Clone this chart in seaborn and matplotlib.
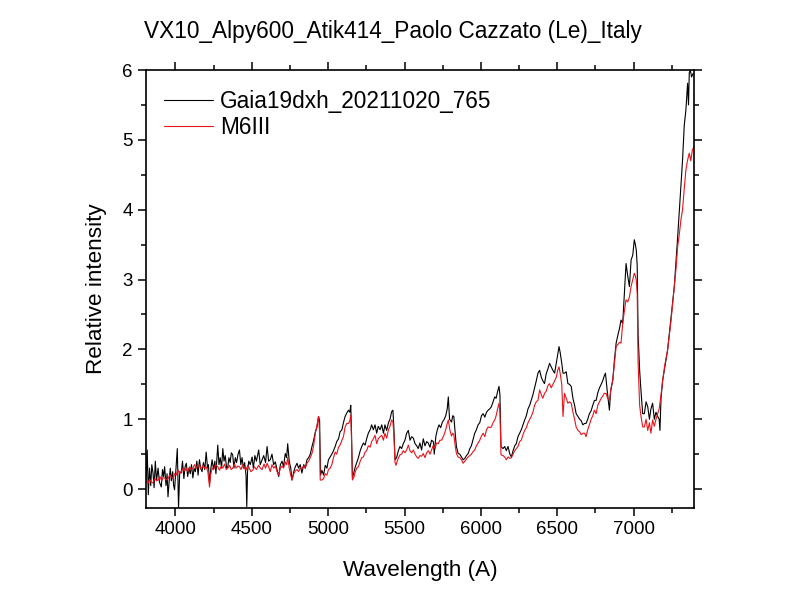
import numpy as np
import pandas as pd
import matplotlib
matplotlib.use('Agg')
import matplotlib.pyplot as plt
import seaborn as sns
from matplotlib.ticker import MultipleLocator

# Gaia19dxh spectrum (wavelength, relative intensity)
gaia_wl = [3808, 3815, 3822, 3830, 3838, 3845, 3853, 3860, 3868, 3876, 3886, 3895, 3907, 3915, 3922, 3929,
           3938, 3945, 3951, 3960, 3966, 3973, 3982, 3988, 3994, 4003, 4012, 4020, 4028, 4038, 4046, 4055,
           4063, 4071, 4080, 4088, 4097, 4105, 4114, 4122, 4130, 4140, 4148, 4157, 4165, 4174, 4183, 4192,
           4201, 4210, 4216, 4223, 4232, 4240, 4249, 4258, 4265, 4277, 4285, 4293, 4302, 4310, 4318, 4326,
           4335, 4343, 4350, 4358, 4366, 4375, 4383, 4392, 4400, 4410, 4419, 4428, 4436, 4445, 4453, 4462,
           4467, 4472, 4480, 4490, 4502, 4510, 4520, 4530, 4545, 4555, 4567, 4578, 4590, 4600, 4610, 4621,
           4632, 4643, 4654, 4665, 4676, 4687, 4698, 4708, 4719, 4728, 4735, 4745, 4755, 4763, 4775, 4785,
           4796, 4806, 4817, 4828, 4840, 4850, 4861, 4872, 4883, 4894, 4905, 4916, 4926, 4937, 4944, 4950,
           4959, 4970, 4981, 4992, 5002, 5013, 5024, 5035, 5046, 5056, 5068, 5078, 5090, 5100, 5111, 5122,
           5133, 5142, 5148, 5153, 5159, 5170, 5178, 5187, 5198, 5210, 5220, 5231, 5242, 5252, 5263, 5275,
           5285, 5296, 5307, 5318, 5328, 5340, 5351, 5362, 5372, 5383, 5395, 5405, 5416, 5424, 5430, 5438,
           5448, 5460, 5470, 5481, 5492, 5503, 5514, 5525, 5536, 5547, 5558, 5569, 5580, 5590, 5601, 5612,
           5623, 5634, 5645, 5656, 5667, 5677, 5689, 5695, 5705, 5715, 5726, 5737, 5748, 5758, 5770, 5780,
           5787, 5795, 5808, 5816, 5823, 5832, 5840, 5851, 5862, 5873, 5884, 5895, 5906, 5917, 5928, 5938,
           5950, 5960, 5971, 5982, 5993, 6004, 6015, 6026, 6037, 6048, 6059, 6069, 6080, 6091, 6100, 6110,
           6119, 6125, 6132, 6145, 6156, 6167, 6178, 6190, 6200, 6211, 6222, 6232, 6243, 6254, 6265, 6276,
           6287, 6298, 6309, 6320, 6330, 6341, 6352, 6363, 6374, 6385, 6396, 6406, 6417, 6428, 6439, 6450,
           6461, 6472, 6483, 6494, 6503, 6512, 6520, 6530, 6538, 6548, 6559, 6570, 6581, 6592, 6603, 6614,
           6624, 6636, 6647, 6657, 6668, 6679, 6689, 6700, 6711, 6722, 6733, 6744, 6755, 6766, 6777, 6788,
           6798, 6808, 6816, 6828, 6842, 6850, 6864, 6875, 6886, 6897, 6908, 6918, 6929, 6940, 6951, 6962,
           6973, 6984, 6995, 7005, 7012, 7018, 7024, 7030, 7040, 7049, 7060, 7071, 7082, 7093, 7104, 7114,
           7125, 7136, 7147, 7158, 7168, 7173, 7180, 7191, 7205, 7223, 7245, 7267, 7278, 7289, 7300, 7310,
           7321, 7332, 7343, 7354, 7360, 7365, 7372, 7380, 7390]
gaia_flux = [0.13, 0.56, -0.08, 0.30, 0.05, 0.35, 0.23, 0.02, 0.40, 0.12, 0.30, 0.10, 0.03, 0.28, 0.18, 0.32,
             0.05, 0.22, -0.11, 0.15, 0.30, 0.12, 0.25, 0.05, -0.01, 0.28, 0.58, -0.27, 0.25, 0.23, 0.40, 0.15,
             0.32, 0.37, 0.18, 0.30, 0.22, 0.35, 0.16, 0.30, 0.25, 0.40, 0.20, 0.42, 0.30, 0.25, 0.38, 0.28,
             0.53, 0.30, 0.35, 0.08, 0.30, 0.42, 0.28, 0.40, 0.22, 0.63, 0.35, 0.45, 0.30, 0.58, 0.40, 0.48,
             0.30, 0.32, 0.45, 0.38, 0.52, 0.49, 0.30, 0.45, 0.38, 0.50, 0.56, 0.35, 0.45, 0.30, 0.38, 0.20,
             -0.25, 0.25, 0.40, 0.35, 0.46, 0.30, 0.48, 0.40, 0.56, 0.35, 0.42, 0.48, 0.38, 0.61, 0.40, 0.42,
             0.50, 0.35, 0.39, 0.28, 0.18, 0.35, 0.40, 0.32, 0.51, 0.45, 0.65, 0.40, 0.30, 0.13, 0.25, 0.32,
             0.37, 0.30, 0.35, 0.23, 0.35, 0.30, 0.42, 0.45, 0.50, 0.61, 0.70, 0.82, 0.88, 1.04, 0.98, 0.20,
             0.27, 0.20, 0.34, 0.30, 0.42, 0.46, 0.50, 0.55, 0.61, 0.68, 0.72, 0.82, 0.85, 0.95, 1.04, 1.09,
             1.13, 1.10, 1.20, 0.80, 0.16, 0.25, 0.32, 0.38, 0.45, 0.55, 0.61, 0.66, 0.63, 0.72, 0.80, 0.85,
             0.92, 0.85, 0.92, 0.80, 0.90, 0.85, 0.92, 0.80, 0.92, 0.84, 0.95, 1.00, 1.11, 1.13, 0.90, 0.42,
             0.45, 0.55, 0.61, 0.58, 0.65, 0.70, 0.80, 0.84, 0.70, 0.75, 0.73, 0.65, 0.62, 0.58, 0.66, 0.56,
             0.72, 0.62, 0.68, 0.66, 0.60, 0.70, 0.68, 0.50, 0.75, 0.85, 0.92, 0.88, 0.96, 0.99, 1.05, 1.15,
             1.32, 1.00, 0.96, 1.05, 1.04, 0.80, 0.61, 0.51, 0.50, 0.46, 0.42, 0.44, 0.48, 0.51, 0.58, 0.62,
             0.72, 0.80, 0.85, 0.92, 0.95, 1.05, 1.08, 1.03, 1.10, 1.13, 1.15, 1.18, 1.25, 1.32, 1.30, 1.40,
             1.47, 1.35, 0.61, 0.58, 0.61, 0.55, 0.61, 0.50, 0.46, 0.55, 0.62, 0.65, 0.75, 0.80, 0.85, 0.92,
             0.99, 1.05, 1.15, 1.20, 1.27, 1.35, 1.45, 1.55, 1.66, 1.70, 1.60, 1.55, 1.51, 1.65, 1.72, 1.80,
             1.75, 1.70, 1.66, 1.80, 1.92, 2.04, 1.95, 1.80, 1.66, 1.66, 1.68, 1.51, 1.50, 1.47, 1.30, 1.20,
             1.08, 1.04, 1.00, 0.98, 0.92, 0.94, 0.94, 1.00, 1.08, 1.12, 1.20, 1.27, 1.27, 1.38, 1.45, 1.50,
             1.55, 1.62, 1.66, 1.40, 1.13, 1.40, 1.56, 1.85, 2.09, 2.20, 2.30, 2.42, 2.37, 2.80, 3.23, 3.05,
             2.90, 3.28, 3.35, 3.57, 3.50, 3.42, 3.20, 2.20, 1.70, 1.40, 1.08, 1.08, 1.25, 1.18, 1.00, 1.15,
             1.23, 1.00, 1.10, 1.04, 1.00, 0.84, 1.30, 1.56, 1.75, 1.99, 2.45, 2.90, 3.25, 3.61, 4.00, 4.33,
             4.71, 5.20, 5.43, 5.81, 5.50, 5.96, 6.00, 5.90, 5.95]

# M6III template spectrum
m6_wl = [3808, 3820, 3830, 3842, 3853, 3865, 3876, 3886, 3898, 3910, 3920, 3929, 3940, 3951, 3962, 3973,
         3985, 3994, 4005, 4016, 4027, 4038, 4050, 4060, 4071, 4082, 4093, 4104, 4114, 4125, 4136, 4146,
         4157, 4168, 4180, 4190, 4201, 4212, 4223, 4230, 4240, 4250, 4262, 4277, 4288, 4300, 4310, 4322,
         4332, 4343, 4355, 4365, 4375, 4386, 4397, 4408, 4419, 4430, 4440, 4451, 4462, 4473, 4484, 4494,
         4506, 4517, 4530, 4545, 4556, 4567, 4580, 4590, 4600, 4610, 4621, 4632, 4643, 4654, 4665, 4676,
         4687, 4698, 4708, 4719, 4728, 4735, 4745, 4755, 4763, 4775, 4785, 4796, 4806, 4817, 4828, 4840,
         4850, 4861, 4872, 4883, 4894, 4905, 4916, 4926, 4937, 4943, 4948, 4959, 4970, 4981, 4992, 5002,
         5013, 5024, 5035, 5046, 5056, 5068, 5078, 5090, 5100, 5111, 5122, 5133, 5142, 5148, 5153, 5159,
         5170, 5178, 5187, 5198, 5210, 5220, 5231, 5242, 5252, 5263, 5275, 5285, 5296, 5307, 5318, 5328,
         5340, 5351, 5362, 5372, 5383, 5395, 5405, 5416, 5424, 5430, 5438, 5444, 5455, 5470, 5481, 5492,
         5503, 5514, 5525, 5536, 5547, 5558, 5569, 5580, 5590, 5601, 5612, 5623, 5634, 5645, 5656, 5667,
         5677, 5689, 5700, 5710, 5721, 5732, 5743, 5758, 5770, 5780, 5787, 5797, 5808, 5816, 5823, 5832,
         5840, 5851, 5862, 5873, 5884, 5895, 5906, 5917, 5928, 5938, 5950, 5960, 5971, 5982, 5993, 6004,
         6015, 6026, 6037, 6048, 6059, 6069, 6080, 6091, 6100, 6110, 6119, 6125, 6132, 6145, 6156, 6167,
         6178, 6190, 6200, 6211, 6222, 6232, 6243, 6254, 6265, 6276, 6287, 6298, 6309, 6320, 6330, 6341,
         6352, 6363, 6374, 6385, 6396, 6406, 6417, 6428, 6439, 6450, 6461, 6472, 6483, 6494, 6503, 6512,
         6520, 6530, 6538, 6548, 6559, 6570, 6581, 6592, 6603, 6614, 6624, 6636, 6647, 6657, 6668, 6679,
         6689, 6700, 6711, 6722, 6733, 6744, 6755, 6766, 6777, 6788, 6798, 6808, 6820, 6830, 6842, 6853,
         6864, 6875, 6886, 6897, 6908, 6918, 6929, 6940, 6951, 6962, 6973, 6984, 6995, 7005, 7012, 7018,
         7024, 7030, 7040, 7049, 7060, 7071, 7082, 7093, 7104, 7114, 7125, 7136, 7147, 7158, 7168, 7180,
         7191, 7205, 7223, 7245, 7267, 7278, 7289, 7300, 7310, 7321, 7332, 7343, 7354, 7365, 7375, 7385,
         7395]
m6_flux = [0.11, 0.08, 0.14, 0.10, 0.09, 0.15, 0.12, 0.13, 0.18, 0.12, 0.16, 0.16, 0.13, 0.15, 0.20, 0.18,
           0.15, 0.22, 0.20, 0.28, 0.22, 0.25, 0.30, 0.26, 0.30, 0.25, 0.32, 0.28, 0.30, 0.35, 0.30, 0.33,
           0.35, 0.28, 0.34, 0.30, 0.32, 0.25, 0.03, 0.20, 0.30, 0.28, 0.35, 0.32, 0.27, 0.33, 0.30, 0.36,
           0.28, 0.30, 0.34, 0.28, 0.30, 0.36, 0.30, 0.33, 0.32, 0.28, 0.35, 0.30, 0.27, 0.34, 0.30, 0.25,
           0.27, 0.32, 0.28, 0.34, 0.30, 0.28, 0.36, 0.30, 0.37, 0.32, 0.25, 0.35, 0.30, 0.33, 0.25, 0.20,
           0.30, 0.33, 0.30, 0.39, 0.35, 0.45, 0.30, 0.20, 0.13, 0.22, 0.26, 0.28, 0.25, 0.30, 0.30, 0.33,
           0.30, 0.37, 0.40, 0.45, 0.51, 0.62, 0.80, 0.90, 1.04, 0.85, 0.13, 0.13, 0.15, 0.22, 0.20, 0.28,
           0.30, 0.35, 0.45, 0.53, 0.50, 0.60, 0.63, 0.70, 0.75, 0.89, 0.94, 0.94, 0.98, 1.06, 0.70, 0.13,
           0.18, 0.25, 0.30, 0.32, 0.40, 0.45, 0.46, 0.53, 0.55, 0.62, 0.60, 0.68, 0.72, 0.77, 0.65, 0.72,
           0.75, 0.77, 0.70, 0.80, 0.73, 0.85, 0.90, 0.99, 0.96, 0.80, 0.38, 0.34, 0.42, 0.49, 0.50, 0.55,
           0.52, 0.56, 0.63, 0.55, 0.52, 0.56, 0.50, 0.46, 0.44, 0.48, 0.47, 0.51, 0.45, 0.52, 0.55, 0.50,
           0.56, 0.63, 0.58, 0.66, 0.65, 0.70, 0.70, 0.77, 0.85, 0.94, 0.99, 0.85, 0.76, 0.80, 0.78, 0.62,
           0.51, 0.46, 0.45, 0.42, 0.37, 0.40, 0.43, 0.46, 0.48, 0.50, 0.54, 0.56, 0.62, 0.66, 0.70, 0.76,
           0.80, 0.75, 0.85, 0.89, 0.88, 0.89, 0.95, 0.99, 1.05, 1.15, 1.23, 1.10, 0.49, 0.48, 0.46, 0.42,
           0.46, 0.44, 0.45, 0.50, 0.55, 0.58, 0.61, 0.68, 0.70, 0.78, 0.84, 0.88, 0.95, 1.00, 1.04, 1.10,
           1.20, 1.25, 1.27, 1.42, 1.35, 1.30, 1.37, 1.40, 1.48, 1.51, 1.45, 1.50, 1.55, 1.60, 1.70, 1.75,
           1.65, 1.50, 1.04, 1.37, 1.30, 1.23, 1.25, 1.23, 1.10, 1.00, 0.89, 0.84, 0.82, 0.78, 0.80, 0.80,
           0.75, 0.85, 0.92, 1.00, 1.05, 1.13, 1.08, 1.20, 1.25, 1.30, 1.33, 1.37, 1.37, 1.30, 1.27, 1.45,
           1.56, 1.80, 2.04, 2.07, 2.10, 2.09, 2.37, 2.55, 2.71, 2.68, 2.75, 2.90, 3.00, 3.09, 3.05, 2.99,
           2.80, 1.80, 1.20, 1.04, 0.89, 0.89, 1.00, 0.84, 0.95, 0.80, 0.99, 0.90, 1.00, 1.08, 1.15, 1.35,
           1.56, 1.78, 1.99, 2.40, 2.90, 3.15, 3.47, 3.65, 3.85, 4.00, 4.30, 4.57, 4.71, 4.81, 4.70, 4.85,
           4.90]

gaia = pd.DataFrame({'wl': gaia_wl, 'flux': gaia_flux})
m6 = pd.DataFrame({'wl': m6_wl, 'flux': m6_flux})

sns.set_style('ticks')
plt.rcParams['font.family'] = ['Liberation Sans', 'DejaVu Sans']
plt.rcParams['text.color'] = 'black'
plt.rcParams['axes.labelcolor'] = 'black'
plt.rcParams['xtick.color'] = 'black'
plt.rcParams['ytick.color'] = 'black'

fig = plt.figure(figsize=(8, 6.12), dpi=100)
ax = fig.add_axes([0.1825, 0.170, 0.685, 0.7156])

sns.lineplot(data=gaia, x='wl', y='flux', ax=ax, color='black', lw=0.8,
             sort=False, estimator=None, label='Gaia19dxh_20211020_765')
sns.lineplot(data=m6, x='wl', y='flux', ax=ax, color='#e8141c', lw=0.8,
             sort=False, estimator=None, label='M6III')

ax.set_xlim(3807, 7396)
ax.set_ylim(-0.27, 6)
ax.xaxis.set_major_locator(MultipleLocator(500))
ax.xaxis.set_minor_locator(MultipleLocator(250))
ax.yaxis.set_major_locator(MultipleLocator(1))
ax.yaxis.set_minor_locator(MultipleLocator(0.5))
ax.tick_params(which='both', direction='out', top=True, right=True, width=1.1, color='black')
ax.tick_params(which='major', length=6, labelsize=13.5, labelcolor='black')
ax.tick_params(which='minor', length=3.5)
for s in ax.spines.values():
    s.set_linewidth(1.2)
    s.set_color('black')

ax.set_xlabel('Wavelength (A)', fontsize=16.2, labelpad=16)
ax.set_ylabel('Relative intensity', fontsize=16.2, labelpad=11)
fig.text(0.491, 0.948, 'VX10_Alpy600_Atik414_Paolo Cazzato (Le)_Italy', ha='center', va='center', fontsize=16.3)

ax.legend(loc='upper left', bbox_to_anchor=(-0.005, 1.0), frameon=False, fontsize=16.3,
          handlelength=2.2, handletextpad=0.3, labelspacing=0.12, borderaxespad=0.5)

fig.savefig('out.png', dpi=100)
